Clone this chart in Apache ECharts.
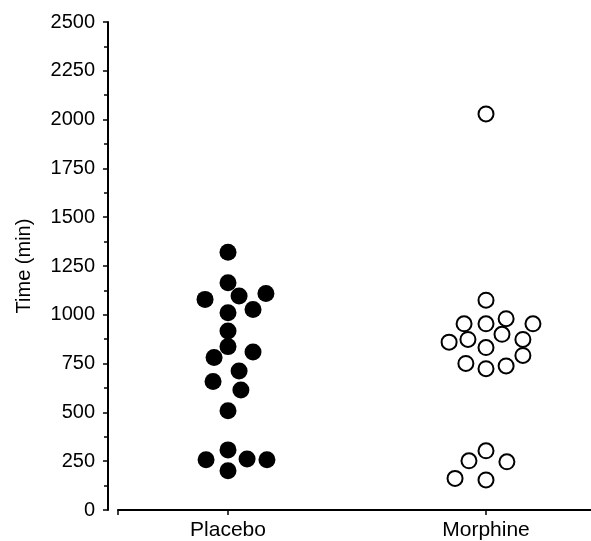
<!DOCTYPE html>
<html>
<head>
<meta charset="utf-8">
<script src="https://cdn.jsdelivr.net/npm/echarts@6/dist/echarts.min.js"></script>
<style>html,body{margin:0;padding:0;background:#fff}#c{width:591px;height:541px}</style>
</head>
<body>
<div id="c"></div>
<script>
var categories = ['Placebo', 'Morphine'];
var yTicks = [0, 250, 500, 750, 1000, 1250, 1500, 1750, 2000, 2250, 2500];
// Time (min) per patient
var placeboValues = [1320, 1164, 1079, 1096, 1109, 1027, 1011, 917, 837, 781, 809, 712, 658, 615, 508, 308, 257, 261, 257, 201];
// horizontal scatter of each dot, in category widths
var placeboJitter = [0, 0, -0.089, 0.043, 0.147, 0.097, 0, 0, 0, -0.054, 0.097, 0.043, -0.058, 0.050, 0, 0, -0.085, 0.074, 0.151, 0];
var morphineValues = [2029, 1075, 954, 954, 980, 954, 860, 874, 900, 874, 832, 792, 751, 724, 738, 303, 252, 247, 162, 154];
var morphineJitter = [0, 0, -0.085, 0, 0.078, 0.182, -0.143, -0.070, 0.062, 0.143, 0, 0.143, -0.078, 0, 0.078, 0, -0.066, 0.081, -0.120, 0];

function pts(center, vals, jit) {
  return vals.map(function (v, i) { return [center + jit[i], v]; });
}
var xMin = 1 - 110 / 258, xMax = 2 + 105 / 258;
var font = '"Liberation Sans", Arial, Helvetica, sans-serif';
var chart = echarts.init(document.getElementById('c'), null, {renderer: 'canvas'});
chart.setOption({
  animation: false,
  backgroundColor: '#fff',
  grid: {left: 118, top: 22, right: 0, bottom: 30, containLabel: false},
  xAxis: {
    type: 'value', min: xMin, max: xMax, offset: 2,
    splitLine: {show: false},
    axisLine: {show: true, lineStyle: {color: '#000', width: 2}},
    axisTick: {show: true, inside: false, length: 5, lineStyle: {color: '#000', width: 1.5},
      customValues: [xMin, 1, 2]},
    axisLabel: {show: true, margin: 8, color: '#000', fontSize: 21, fontFamily: font,
      customValues: [1, 2],
      formatter: function (v) { return categories[Math.round(v) - 1] || ''; }}
  },
  yAxis: {
    type: 'value', min: 0, max: 2500, interval: 250, offset: 10,
    name: 'Time (min)', nameLocation: 'middle', nameGap: 74,
    nameTextStyle: {color: '#000', fontSize: 20, fontFamily: font},
    splitLine: {show: false},
    axisLine: {show: true, lineStyle: {color: '#000', width: 2}},
    axisTick: {show: true, inside: false, length: 5, lineStyle: {color: '#000', width: 1.5},
      customValues: yTicks},
    minorTick: {show: true, splitNumber: 2, length: 4, lineStyle: {color: '#000', width: 1.5}},
    axisLabel: {margin: 13, color: '#000', fontSize: 20, fontFamily: font,
      customValues: yTicks,
      formatter: function (v) { return String(v); }}
  },
  series: [
    {type: 'scatter', name: 'Placebo', data: pts(1, placeboValues, placeboJitter),
      symbol: 'circle', symbolSize: 17,
      itemStyle: {color: '#000', opacity: 1, borderWidth: 0}},
    {type: 'scatter', name: 'Morphine', data: pts(2, morphineValues, morphineJitter),
      symbol: 'circle', symbolSize: 15,
      itemStyle: {color: '#fff', opacity: 1, borderColor: '#000', borderWidth: 2}}
  ]
});
</script>
</body>
</html>
